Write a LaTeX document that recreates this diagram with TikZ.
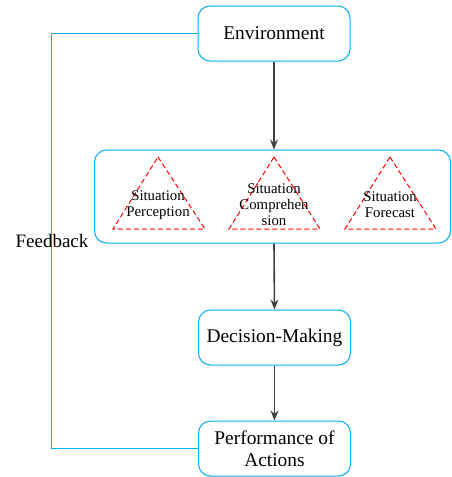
\documentclass[tikz,border=0pt]{standalone}
\usepackage{fontspec}
\setmainfont{Liberation Serif}
\usetikzlibrary{arrows.meta}
\definecolor{myblue}{RGB}{0,176,240}
\definecolor{myred}{RGB}{255,0,0}
\definecolor{mygray}{RGB}{64,64,64}

\begin{document}
\begin{tikzpicture}[x=0.5pt, y=-0.5pt,
		box/.style={draw=myblue, line width=0.5pt, rounded corners=6pt, align=center, minimum width=76pt, minimum height=27.5pt, inner sep=1pt, font=\fontsize{9.7}{11}\selectfont},
		flow/.style={draw=mygray, line width=0.8pt, -{Stealth[length=5pt,width=4pt]}},
		tri/.style={draw=myred, line width=0.5pt, dash pattern=on 2.5pt off 1.5pt},
		tritext/.style={align=center, inner sep=0pt, font=\fontsize{7.4}{8}\selectfont}]
	\useasboundingbox (0,0) rectangle (451,477);

	% Draw the boxes
	\node[box] (env) at (274,33.5) {Environment};
	\node[box, minimum width=178pt, minimum height=46.5pt] (sa) at (272.5,196.5) {};
	\node[box] (dm) at (274.5,337.5) {Decision-Making};
	\node[box] (perf) at (274.5,448.5) {Performance of\\Actions};

	% Draw the dashed triangles and their texts
	\draw[tri] (158,157) -- (205,229) -- (113,229) -- cycle;
	\draw[tri] (274,157) -- (320,229) -- (229,229) -- cycle;
	\draw[tri] (390,157) -- (436,229) -- (345,229) -- cycle;
	\node[tritext] (perc) at (158,205) {Situation\\Perception};
	\node[tritext] (comp) at (274,205) {Situation\\Comprehen\\sion};
	\node[tritext] (fore) at (390,205) {Situation\\Forecast};

	% Draw the arrows
	\draw[flow] (env.south) -- (env.south |- sa.north);
	\draw[flow] (env.south |- sa.south) -- (dm.north);
	\draw[flow] (dm.south) -- (perf.north);

	% Feedback loop
	\coordinate (fbturn) at (51,448.5);
	\draw[myblue, line width=0.5pt] (perf.west) -- (fbturn) |- (env.west);
	\node[font=\fontsize{9.5}{11}\selectfont] (fb) at (52,241) {Feedback};
\end{tikzpicture}
\end{document}
